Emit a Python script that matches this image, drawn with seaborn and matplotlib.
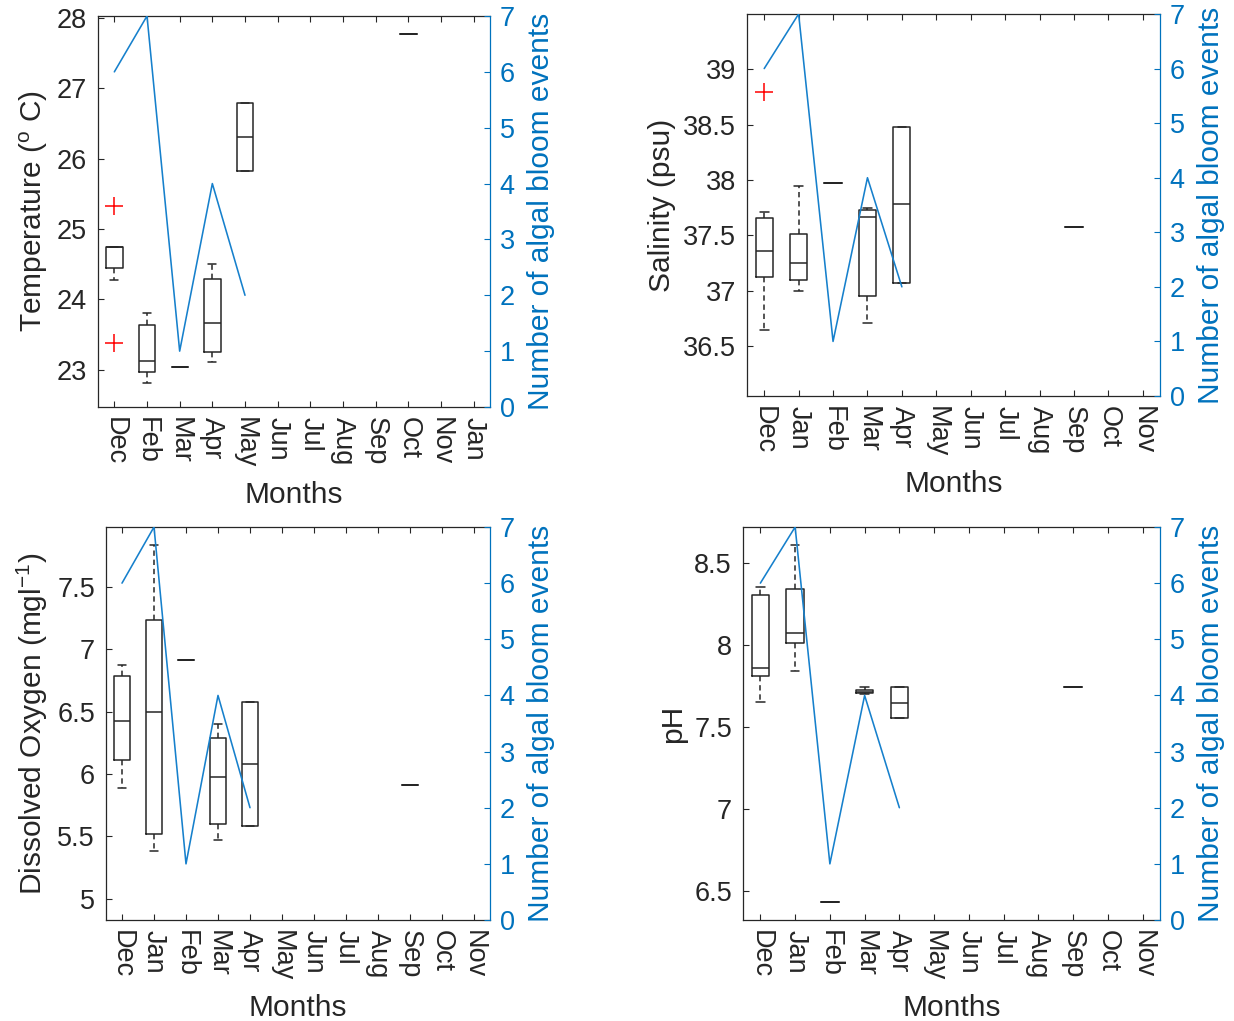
import numpy as np
import pandas as pd
import matplotlib
matplotlib.use("Agg")
import matplotlib.pyplot as plt
from matplotlib.ticker import FuncFormatter
import seaborn as sns

nan = np.nan

# ---------------- data ----------------
months_temp = ['Dec', 'Feb', 'Mar', 'Apr', 'May', 'Jun', 'Jul', 'Aug', 'Sep', 'Oct', 'Nov', 'Jan']
months_other = ['Dec', 'Jan', 'Feb', 'Mar', 'Apr', 'May', 'Jun', 'Jul', 'Aug', 'Sep', 'Oct', 'Nov']

bloom_events = [6, 7, 1, 4, 2]  # first five months of each panel

temp_q1 = [24.44, 22.97, 23.04, 23.25, 25.82, nan, nan, nan, nan, 27.78, nan, nan]
temp_med = [24.74, 23.13, 23.04, 23.67, 26.31, nan, nan, nan, nan, 27.78, nan, nan]
temp_q3 = [24.75, 23.64, 23.04, 24.29, 26.79, nan, nan, nan, nan, 27.78, nan, nan]
temp_whislo = [24.28, 22.81, 23.04, 23.11, 25.82, nan, nan, nan, nan, 27.78, nan, nan]
temp_whishi = [24.75, 23.80, 23.04, 24.50, 26.79, nan, nan, nan, nan, 27.78, nan, nan]
temp_fliers = [[25.33, 23.38], [], [], [], [], [], [], [], [], [], [], []]
temp_ticks = [23, 24, 25, 26, 27, 28]

sal_q1 = [37.125, 37.095, 37.97, 36.95, 37.07, nan, nan, nan, nan, 37.58, nan, nan]
sal_med = [37.36, 37.255, 37.97, 37.67, 37.78, nan, nan, nan, nan, 37.58, nan, nan]
sal_q3 = [37.66, 37.51, 37.97, 37.73, 38.48, nan, nan, nan, nan, 37.58, nan, nan]
sal_whislo = [36.65, 37.00, 37.97, 36.71, 37.07, nan, nan, nan, nan, 37.58, nan, nan]
sal_whishi = [37.71, 37.95, 37.97, 37.75, 38.48, nan, nan, nan, nan, 37.58, nan, nan]
sal_fliers = [[38.80], [], [], [], [], [], [], [], [], [], [], []]
sal_ticks = [36.5, 37, 37.5, 38, 38.5, 39]

do_q1 = [6.113, 5.519, 6.911, 5.602, 5.586, nan, nan, nan, nan, 5.914, nan, nan]
do_med = [6.428, 6.495, 6.911, 5.975, 6.082, nan, nan, nan, nan, 5.914, nan, nan]
do_q3 = [6.788, 7.234, 6.911, 6.292, 6.58, nan, nan, nan, nan, 5.914, nan, nan]
do_whislo = [5.887, 5.386, 6.911, 5.474, 5.586, nan, nan, nan, nan, 5.914, nan, nan]
do_whishi = [6.871, 7.839, 6.911, 6.402, 6.58, nan, nan, nan, nan, 5.914, nan, nan]
do_fliers = [[] for _ in range(12)]
do_ticks = [5, 5.5, 6, 6.5, 7, 7.5]

ph_q1 = [7.809, 8.012, 6.429, 7.705, 7.551, nan, nan, nan, nan, 7.74, nan, nan]
ph_med = [7.858, 8.071, 6.429, 7.715, 7.646, nan, nan, nan, nan, 7.74, nan, nan]
ph_q3 = [8.307, 8.34, 6.429, 7.725, 7.74, nan, nan, nan, nan, 7.74, nan, nan]
ph_whislo = [7.649, 7.841, 6.429, 7.70, 7.551, nan, nan, nan, nan, 7.74, nan, nan]
ph_whishi = [8.352, 8.612, 6.429, 7.74, 7.74, nan, nan, nan, nan, 7.74, nan, nan]
ph_fliers = [[] for _ in range(12)]
ph_ticks = [6.5, 7, 7.5, 8, 8.5]

bloom_ticks = [0, 1, 2, 3, 4, 5, 6, 7]

# ---------------- style ----------------
sns.set_style("ticks")
plt.rcParams['font.family'] = ['Liberation Sans', 'DejaVu Sans']
plt.rcParams['mathtext.fontset'] = 'custom'
plt.rcParams['mathtext.rm'] = 'Liberation Sans'
plt.rcParams['mathtext.it'] = 'Liberation Sans:italic'
plt.rcParams['mathtext.default'] = 'regular'

DARK = '#262626'
BLUE = '#0072BD'
LINE_BLUE = '#1680CC'
TICK_FS = 19.5
LABEL_FS = 21.5

fig = plt.figure(figsize=(12.34, 10.21), dpi=100)
W, H = 1234.0, 1021.0


def make_axes(left, top, right, bottom):
    return fig.add_axes([left / W, 1 - bottom / H, (right - left) / W, (bottom - top) / H])


panels = [
    dict(box=(98, 16, 490, 407), months=months_temp, q1=temp_q1, med=temp_med, q3=temp_q3,
         lo=temp_whislo, hi=temp_whishi, fl=temp_fliers, ylim=(22.47, 28.03), ticks=temp_ticks,
         ylabel=r'Temperature ($^{o}$ C)'),
    dict(box=(747, 14, 1160, 396), months=months_other, q1=sal_q1, med=sal_med, q3=sal_q3,
         lo=sal_whislo, hi=sal_whishi, fl=sal_fliers, ylim=(36.05, 39.5), ticks=sal_ticks,
         ylabel='Salinity (psu)'),
    dict(box=(106, 527, 490, 920), months=months_other, q1=do_q1, med=do_med, q3=do_q3,
         lo=do_whislo, hi=do_whishi, fl=do_fliers, ylim=(4.83, 7.98), ticks=do_ticks,
         ylabel=r'Dissolved Oxygen (mgl$^{-1}$)'),
    dict(box=(743, 527, 1160, 920), months=months_other, q1=ph_q1, med=ph_med, q3=ph_q3,
         lo=ph_whislo, hi=ph_whishi, fl=ph_fliers, ylim=(6.32, 8.72), ticks=ph_ticks,
         ylabel='pH'),
]

fmt = FuncFormatter(lambda v, p: '%g' % round(v, 3))

for p in panels:
    ax = make_axes(*p['box'])
    stats, pos = [], []
    for i in range(12):
        if np.isnan(p['med'][i]):
            continue
        stats.append(dict(med=p['med'][i], q1=p['q1'][i], q3=p['q3'][i],
                          whislo=p['lo'][i], whishi=p['hi'][i], fliers=p['fl'][i]))
        pos.append(i + 1)
    ax.bxp(stats, positions=pos, widths=0.5, capwidths=0.25, showfliers=True,
           boxprops=dict(color=DARK, lw=1.1),
           medianprops=dict(color=DARK, lw=1.1),
           whiskerprops=dict(color=DARK, lw=1.1, linestyle=(0, (3.5, 2.5))),
           capprops=dict(color=DARK, lw=1.1),
           flierprops=dict(marker='+', markeredgecolor='red', markersize=13, mew=1.1,
                           linestyle='none'))
    ax.set_xlim(0.5, 12.5)
    ax.set_ylim(*p['ylim'])
    ax.set_xticks(range(1, 13))
    ax.set_xticklabels(p['months'], rotation=-90, fontsize=TICK_FS, color=DARK)
    ax.set_yticks(p['ticks'])
    ax.yaxis.set_major_formatter(fmt)
    ax.tick_params(axis='both', direction='in', length=4, width=0.8, colors=DARK,
                   labelsize=TICK_FS, top=True, right=False)
    ax.tick_params(axis='x', pad=7)
    ax.tick_params(axis='y', pad=8)
    for s in ['left', 'top', 'bottom']:
        ax.spines[s].set_color(DARK)
        ax.spines[s].set_linewidth(0.9)
    ax.spines['right'].set_visible(False)
    ax.set_xlabel('Months', fontsize=LABEL_FS, color=DARK, labelpad=9)
    ax.set_ylabel(p['ylabel'], fontsize=LABEL_FS, color=DARK, labelpad=5)

    ax2 = ax.twinx()
    df = pd.DataFrame({'x': np.arange(1, len(bloom_events) + 1), 'events': bloom_events})
    sns.lineplot(data=df, x='x', y='events', ax=ax2, color=LINE_BLUE, lw=1.15)
    ax2.set_xlim(0.5, 12.5)
    ax2.set_ylim(0, 7)
    ax2.set_yticks(bloom_ticks)
    ax2.set_xlabel('')
    ax2.set_ylabel('Number of algal bloom events', fontsize=LABEL_FS, color=BLUE, labelpad=9)
    ax2.tick_params(axis='y', direction='in', length=4, width=0.8, colors=BLUE,
                    labelsize=TICK_FS, pad=7)
    for s in ['left', 'top', 'bottom']:
        ax2.spines[s].set_visible(False)
    ax2.spines['right'].set_visible(True)
    ax2.spines['right'].set_color(BLUE)
    ax2.spines['right'].set_linewidth(0.9)

fig.savefig('out.png', dpi=100)
